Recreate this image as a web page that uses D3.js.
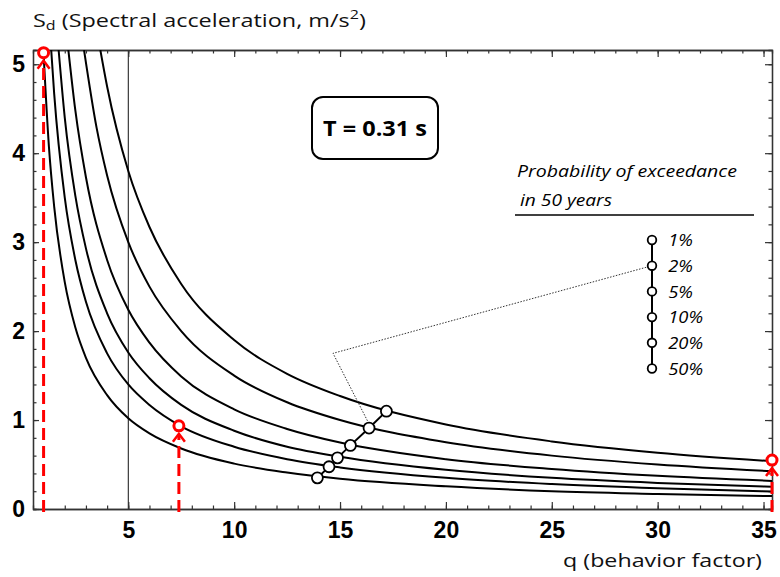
<!DOCTYPE html>
<html>
<head>
<meta charset="utf-8">
<script src="https://cdn.jsdelivr.net/npm/d3@7"></script>
<style>
  body { margin: 0; background: #fff; }
  svg { display: block; }
</style>
</head>
<body>
<svg id="chart" width="780" height="577"></svg>
<script>
// curves, from the top edge down to the right edge
var prob = ["50%", "20%", "10%", "5%", "2%", "1%"];
var q50 = [0.99, 1.25, 1.5, 2, 2.5, 3, 4, 5, 6, 7.5, 10, 12.5, 15, 20, 25, 30, 35.4];
var sd50 = [5.16, 4.08, 3.4, 2.55, 2.04, 1.7, 1.28, 1.02, 0.85, 0.68, 0.51, 0.41, 0.34, 0.255, 0.2, 0.17, 0.145];
var q20 = [1.36, 1.5, 2, 2.5, 3, 4, 5, 6, 7.5, 10, 12.5, 15, 20, 25, 30, 35.4];
var sd20 = [5.16, 4.67, 3.5, 2.8, 2.33, 1.75, 1.4, 1.17, 0.93, 0.7, 0.56, 0.467, 0.35, 0.28, 0.233, 0.198];
var q10 = [1.71, 2, 2.5, 3, 4, 5, 6, 7.5, 10, 12.5, 15, 20, 25, 30, 35.4];
var sd10 = [5.16, 4.4, 3.52, 2.93, 2.2, 1.76, 1.47, 1.17, 0.88, 0.7, 0.587, 0.44, 0.35, 0.293, 0.25];
var q5 = [2.17, 2.5, 3, 4, 5, 6, 7.5, 10, 12.5, 15, 20, 25, 30, 35.4];
var sd5 = [5.16, 4.48, 3.73, 2.8, 2.24, 1.87, 1.49, 1.12, 0.9, 0.747, 0.56, 0.45, 0.373, 0.316];
var q2 = [2.91, 3.5, 4, 5, 6, 7.5, 10, 12.5, 15, 20, 25, 30, 35.4];
var sd2 = [5.16, 4.29, 3.75, 3.0, 2.5, 2.0, 1.5, 1.2, 1.0, 0.75, 0.6, 0.5, 0.424];
var q1 = [3.68, 4, 5, 6, 7.5, 10, 12.5, 15, 20, 25, 30, 35.4];
var sd1 = [5.16, 4.75, 3.8, 3.17, 2.53, 1.9, 1.52, 1.27, 0.95, 0.76, 0.633, 0.537];

// marked points on each curve (50% .. 1%)
var markQ = [13.93, 14.48, 14.88, 15.49, 16.37, 17.19];
var markSd = [0.35, 0.475, 0.575, 0.715, 0.91, 1.1];

// red design points
var redQ = [1.0, 7.39, 35.4];
var redSd = [5.13, 0.935, 0.55];

// dotted leader from the 2% legend entry to its point
var leaderQ = [14.67, 16.32];
var leaderSd = [1.75, 0.98];

var xTicks = [5, 10, 15, 20, 25, 30, 35];
var yTicks = [0, 1, 2, 3, 4, 5];
var legendLabels = ["1%", "2%", "5%", "10%", "20%", "50%"];

var curves = [[q50, sd50], [q20, sd20], [q10, sd10], [q5, sd5], [q2, sd2], [q1, sd1]].map(function(c) {
  return c[0].map(function(q, i) { return {q: q, sd: c[1][i]}; });
});

var svg = d3.select("#chart");
var pl = 33, pr = 772, pt = 50, pb = 509;

var x = d3.scaleLinear().domain([0.5, 35.4]).range([pl, pr]);
var y = d3.scaleLinear().domain([0, 5.16]).range([pb, pt]);

// stretch a text horizontally to the width it has in the picture
function fitWidth(sel, w, ax, ay) {
  var bw = sel.node().getBBox().width;
  var k = w / bw;
  sel.attr("transform", "translate(" + ax + "," + ay + ") scale(" + k + ",1) translate(" + (-ax) + "," + (-ay) + ")");
}

svg.append("clipPath").attr("id", "clip")
  .append("rect").attr("x", pl).attr("y", pt).attr("width", pr - pl).attr("height", pb - pt);

// q = 5 reference line
svg.append("line")
  .attr("x1", x(5)).attr("x2", x(5)).attr("y1", pt).attr("y2", pb)
  .attr("stroke", "#111").attr("stroke-width", 1);

// axes, ticks inward on all four sides
var intQ = d3.range(1, 36);
var fifthSd = d3.range(0, 26).map(function(d) { return d / 5; });

function styleAxis(g) {
  g.select(".domain").attr("stroke", "#333").attr("stroke-width", 1.3);
  g.selectAll(".tick line").attr("stroke", "#333").attr("stroke-width", 1.2);
}
function styleLabels(g) {
  g.selectAll("text")
    .attr("font-family", "Liberation Sans, Arial, sans-serif")
    .attr("font-weight", "bold").attr("font-size", 23).attr("fill", "#000");
}

svg.append("g").attr("transform", "translate(0," + pb + ")")
  .call(d3.axisBottom(x).tickValues(intQ).tickSize(-3.5).tickFormat(""))
  .call(styleAxis);
svg.append("g").attr("transform", "translate(0," + pb + ")")
  .call(d3.axisBottom(x).tickValues(xTicks).tickSize(-7).tickPadding(13).tickSizeOuter(0).tickFormat(d3.format("d")))
  .call(styleAxis)
  .call(styleLabels);

svg.append("g").attr("transform", "translate(0," + pt + ")")
  .call(d3.axisTop(x).tickValues(intQ).tickSize(-3.5).tickFormat(""))
  .call(styleAxis);
svg.append("g").attr("transform", "translate(0," + pt + ")")
  .call(d3.axisTop(x).tickValues(xTicks).tickSize(-7).tickFormat("").tickSizeOuter(0))
  .call(styleAxis);

svg.append("g").attr("transform", "translate(" + pl + ",0)")
  .call(d3.axisLeft(y).tickValues(fifthSd).tickSize(-3.5).tickFormat(""))
  .call(styleAxis);
svg.append("g").attr("transform", "translate(" + pl + ",0)")
  .call(d3.axisLeft(y).tickValues(yTicks).tickSize(-6).tickPadding(8).tickSizeOuter(0).tickFormat(d3.format("d")))
  .call(styleAxis)
  .call(styleLabels);

svg.append("g").attr("transform", "translate(" + pr + ",0)")
  .call(d3.axisRight(y).tickValues(fifthSd).tickSize(-3.5).tickFormat(""))
  .call(styleAxis);
svg.append("g").attr("transform", "translate(" + pr + ",0)")
  .call(d3.axisRight(y).tickValues(yTicks).tickSize(-7).tickFormat("").tickSizeOuter(0))
  .call(styleAxis);

// curves
var line = d3.line()
  .x(function(d) { return x(d.q); })
  .y(function(d) { return y(d.sd); })
  .curve(d3.curveMonotoneX);

svg.append("g").attr("clip-path", "url(#clip)")
  .selectAll("path.curve")
  .data(curves)
  .enter()
  .append("path")
  .attr("class", "curve")
  .attr("d", line)
  .attr("fill", "none")
  .attr("stroke", "#000")
  .attr("stroke-width", 2);

// dotted leader
var leg = {x: 652, y0: 240, step: 25.7};
var leaderPts = [[leg.x, leg.y0 + leg.step]].concat(leaderQ.map(function(q, i) {
  return [x(q), y(leaderSd[i])];
}));
svg.append("path")
  .attr("d", d3.line()(leaderPts))
  .attr("fill", "none")
  .attr("stroke", "#333")
  .attr("stroke-width", 1)
  .attr("stroke-dasharray", "1.5,1.5");

// line through the marked points, then the points
var marks = markQ.map(function(q, i) { return {q: q, sd: markSd[i]}; });
svg.append("path")
  .attr("d", d3.line().x(function(d) { return x(d.q); }).y(function(d) { return y(d.sd); })(marks))
  .attr("fill", "none").attr("stroke", "#000").attr("stroke-width", 2);
svg.selectAll("circle.mark")
  .data(marks)
  .enter()
  .append("circle")
  .attr("class", "mark")
  .attr("cx", function(d) { return x(d.q); })
  .attr("cy", function(d) { return y(d.sd); })
  .attr("r", 5.5)
  .attr("fill", "#fff")
  .attr("stroke", "#000")
  .attr("stroke-width", 1.8);

// red design points: dashed drop line, arrow head, hollow circle
var red = svg.selectAll("g.red")
  .data(redQ.map(function(q, i) { return {q: q, sd: redSd[i]}; }))
  .enter()
  .append("g")
  .attr("class", "red")
  .attr("transform", function(d) { return "translate(" + x(d.q) + "," + y(d.sd) + ")"; });

red.append("line")
  .attr("x1", 0).attr("x2", 0)
  .attr("y1", function(d) { return pb + 3 - y(d.sd); })
  .attr("y2", 9)
  .attr("stroke", "#f00").attr("stroke-width", 3)
  .attr("stroke-dasharray", "12,6");
red.append("path")
  .attr("d", "M-6,16L0,8L6,16")
  .attr("fill", "none").attr("stroke", "#f00").attr("stroke-width", 2.5);
red.append("circle")
  .attr("r", 5)
  .attr("fill", "#fff").attr("stroke", "#f00").attr("stroke-width", 3);

// T label box
var font = "'Open Sans', sans-serif";
svg.append("rect")
  .attr("x", 312).attr("y", 97).attr("width", 126).attr("height", 62)
  .attr("rx", 11).attr("fill", "#fff").attr("stroke", "#000").attr("stroke-width", 2);
var tl = svg.append("text")
  .attr("x", 375).attr("y", 136)
  .attr("text-anchor", "middle")
  .attr("font-family", font).attr("font-weight", "bold").attr("font-size", 22)
  .text("T = 0.31 s");
fitWidth(tl, 104, 375, 136);

// legend
var lt1 = svg.append("text").attr("x", 517).attr("y", 177)
  .attr("font-family", font).attr("font-style", "italic").attr("font-size", 17)
  .text("Probability of exceedance");
fitWidth(lt1, 220, 517, 177);
var lt2 = svg.append("text").attr("x", 520).attr("y", 206)
  .attr("font-family", font).attr("font-style", "italic").attr("font-size", 17)
  .text("in 50 years");
fitWidth(lt2, 92, 520, 206);
svg.append("line").attr("x1", 515).attr("x2", 754).attr("y1", 215).attr("y2", 215)
  .attr("stroke", "#000").attr("stroke-width", 1.5);

svg.append("line")
  .attr("x1", leg.x).attr("x2", leg.x)
  .attr("y1", leg.y0).attr("y2", leg.y0 + leg.step * (legendLabels.length - 1))
  .attr("stroke", "#000").attr("stroke-width", 2);
var li = svg.selectAll("g.legend")
  .data(legendLabels)
  .enter()
  .append("g")
  .attr("class", "legend")
  .attr("transform", function(d, i) { return "translate(" + leg.x + "," + (leg.y0 + i * leg.step) + ")"; });
li.append("circle").attr("r", 4.3)
  .attr("fill", "#fff").attr("stroke", "#000").attr("stroke-width", 1.8);
li.append("text").attr("x", 15).attr("dy", "0.36em")
  .attr("font-family", font).attr("font-style", "italic").attr("font-size", 17)
  .attr("transform", "scale(1.08,1)")
  .text(function(d) { return d; });

// axis titles
var yt = svg.append("text").attr("x", 33).attr("y", 27)
  .attr("font-family", font).attr("font-size", 19).attr("fill", "#111");
yt.append("tspan").text("S");
yt.append("tspan").attr("font-size", 13).attr("dy", 3).text("d");
yt.append("tspan").attr("dy", -3).text(" (Spectral acceleration, m/s");
yt.append("tspan").attr("font-size", 13).attr("dy", -8).text("2");
yt.append("tspan").attr("dy", 8).text(")");
fitWidth(yt, 333, 33, 27);

var xt = svg.append("text").attr("x", 762).attr("y", 567)
  .attr("text-anchor", "end")
  .attr("font-family", font).attr("font-size", 19).attr("fill", "#111")
  .text("q (behavior factor)");
fitWidth(xt, 199, 762, 567);
</script>
</body>
</html>
